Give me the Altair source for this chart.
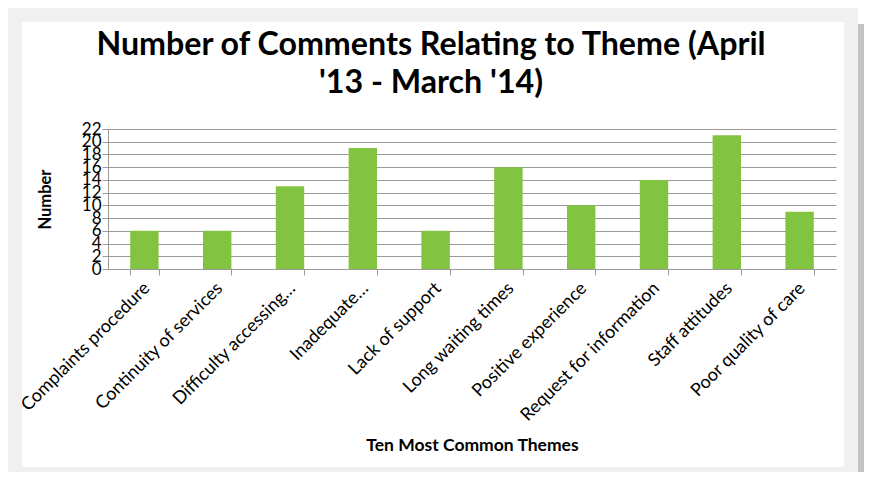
import altair as alt
import pandas as pd

themes = [
    "Complaints procedure",
    "Continuity of services",
    "Difficulty accessing…",
    "Inadequate…",
    "Lack of support",
    "Long waiting times",
    "Positive experience",
    "Request for information",
    "Staff attitudes",
    "Poor quality of care",
]
counts = [6, 6, 13, 19, 6, 16, 10, 14, 21, 9]
y_ticks = list(range(0, 23, 2))

df = pd.DataFrame({"theme": themes, "count": counts})

FONT = "Lato"
W, H = 728, 140

one = alt.Data(values=[{}])


def piece(x1, x2, y1, y2, color):
    return alt.Chart(one).mark_rect(color=color, clip=False).encode(
        x=alt.value(x1), x2=alt.value(x2), y=alt.value(y1), y2=alt.value(y2)
    )


frame_c = "#f0f0f0"
shadow_c = "#c3c3c3"
deco = [
    piece(750, 756, -105, 343, shadow_c),
    piece(-100, 750, -121, -107, frame_c),
    piece(-100, -86, -121, 343, frame_c),
    piece(736, 750, -121, 343, frame_c),
    piece(-100, 750, 338, 343, frame_c),
]

bars = alt.Chart(df).mark_bar(color="#82c341").encode(
    x=alt.X(
        "theme:N",
        sort=themes,
        scale=alt.Scale(paddingInner=0.61, paddingOuter=0.305),
        axis=alt.Axis(
            title="Ten Most Common Themes",
            labelAngle=-45,
            labelFontSize=18,
            labelFont=FONT,
            labelColor="#000000",
            labelPadding=4,
            labelOffset=-4,
            labelLimit=400,
            tickBand="extent",
            tickSize=6,
            tickColor="#9a9a9a",
            domainColor="#9a9a9a",
            grid=False,
            titleFont=FONT,
            titleFontSize=17.5,
            titleFontWeight="bold",
            titleColor="#000000",
            titleY=167,
        ),
    ),
    y=alt.Y(
        "count:Q",
        scale=alt.Scale(domain=[0, 22], nice=False),
        axis=alt.Axis(
            title="Number",
            values=y_ticks,
            labelFontSize=17,
            labelFont=FONT,
            labelColor="#000000",
            labelPadding=1,
            tickSize=6,
            tickColor="#9a9a9a",
            domainColor="#9a9a9a",
            gridColor="#9a9a9a",
            labelOverlap=False,
            titleFont=FONT,
            titleFontSize=16.5,
            titleFontWeight="bold",
            titleColor="#000000",
            titleX=-63,
            titleBaseline="middle",
        ),
    ),
)

chart = (
    alt.layer(*deco, bars)
    .properties(
        width=W,
        height=H,
        autosize=alt.AutoSizeParams(type="none"),
        padding={"left": 100, "top": 121, "right": 28, "bottom": 203},
        background="#ffffff",
        title=alt.TitleParams(
            text=["Number of Comments Relating to Theme (April", "'13 - March '14)"],
            font=FONT,
            fontSize=32.2,
            fontWeight="bold",
            color="#000000",
            anchor="middle",
            lineHeight=38,
            offset=30,
            dx=-41,
            dy=122,
        ),
    )
    .configure_view(stroke=None)
)

chart.save("out.html", embed_options={"renderer": "svg", "actions": False})
